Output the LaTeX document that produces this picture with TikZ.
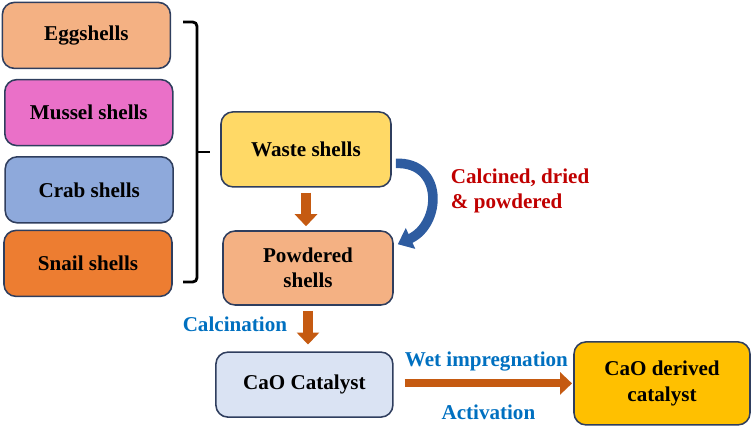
\documentclass[tikz,border=0pt]{standalone}
\usepackage{fontspec}
\setmainfont{Liberation Serif}
\usetikzlibrary{arrows.meta, positioning, calc}

\definecolor{boxline}{RGB}{47,62,94}
\definecolor{eggcol}{RGB}{244,177,131}
\definecolor{musselcol}{RGB}{234,112,200}
\definecolor{crabcol}{RGB}{142,169,219}
\definecolor{snailcol}{RGB}{237,125,49}
\definecolor{wastecol}{RGB}{255,217,102}
\definecolor{catcol}{RGB}{218,227,243}
\definecolor{derivedcol}{RGB}{255,192,0}
\definecolor{flowcol}{RGB}{197,90,17}
\definecolor{arccol}{RGB}{46,92,160}
\definecolor{labred}{RGB}{192,0,0}
\definecolor{labblue}{RGB}{0,112,192}

\begin{document}
\begin{tikzpicture}[
    shellbox/.style={draw=boxline, line width=1.1pt, rounded corners=0.3cm, align=center, font=\fontsize{15}{18}\selectfont\bfseries, minimum width=4.2cm, minimum height=1.65cm},
    flow/.style={draw=flowcol, line width=0.25cm, -{Triangle[width=0.55cm, length=0.3cm]}},
    steplabel/.style={font=\fontsize{15}{18}\selectfont\bfseries, text=labblue},
]
\useasboundingbox (0,0) rectangle (18.8,10.725);

\node[shellbox, fill=eggcol] (egg) at (2.16,9.84) {Eggshells};
\node[shellbox, fill=musselcol] (mussel) at (2.22,7.91) {Mussel shells};
\node[shellbox, fill=crabcol] (crab) at (2.23,5.98) {Crab shells};
\node[shellbox, fill=snailcol] (snail) at (2.2,4.14) {Snail shells};

% bracket grouping the shell types
\draw[line width=2pt, rounded corners=3pt] (4.575,10.175) -- (4.925,10.175) -- (4.925,3.675) -- (4.575,3.675);
\draw[line width=2pt] (4.925,6.925) -- (5.25,6.925);

\node[shellbox, fill=wastecol, minimum width=4.25cm, minimum height=1.875cm] (waste) at (7.65,6.99) {Waste shells};
\node[shellbox, fill=eggcol, minimum width=4.25cm, minimum height=1.85cm] (powder) at (7.7,4.025) {Powdered\\shells};
\node[shellbox, fill=catcol, minimum width=4.425cm, minimum height=1.625cm] (cao) at (7.61,1.11) {CaO Catalyst};
\node[shellbox, fill=derivedcol, minimum width=4.4cm, minimum height=2.075cm] (derived) at (16.55,1.14) {CaO derived\\catalyst};

\draw[flow, shorten <=0.125cm, shorten >=0.1cm] (waste.south) -- (waste.south |- powder.north);
\draw[flow, shorten <=0.125cm, shorten >=0.17cm] (powder.south) -- (powder.south |- cao.north);
\draw[flow, line width=0.2cm, shorten <=0.275cm, shorten >=0.03cm] (cao.east |- derived.west) -- (derived.west);

\draw[arccol, line width=0.24cm, -{Triangle[width=0.55cm, length=0.35cm]}]
    ($(waste.east)+(0.1,-0.35)$) .. controls +(1.2,0.05) and +(1.1,0.5) .. ($(powder.north east)+(0.1,-0.35)$);

\node[anchor=west, align=left, font=\fontsize{15}{18}\selectfont\bfseries, text=labred] (calcdry) at (11.15,5.96) {Calcined, dried\\\& powdered};
\node[steplabel, anchor=east] (calcin) at (7.3,2.625) {Calcination};
\node[steplabel] (wetimp) at (12.16,1.675) {Wet impregnation};
\node[steplabel] (activ) at (12.21,0.425) {Activation};
\end{tikzpicture}
\end{document}
